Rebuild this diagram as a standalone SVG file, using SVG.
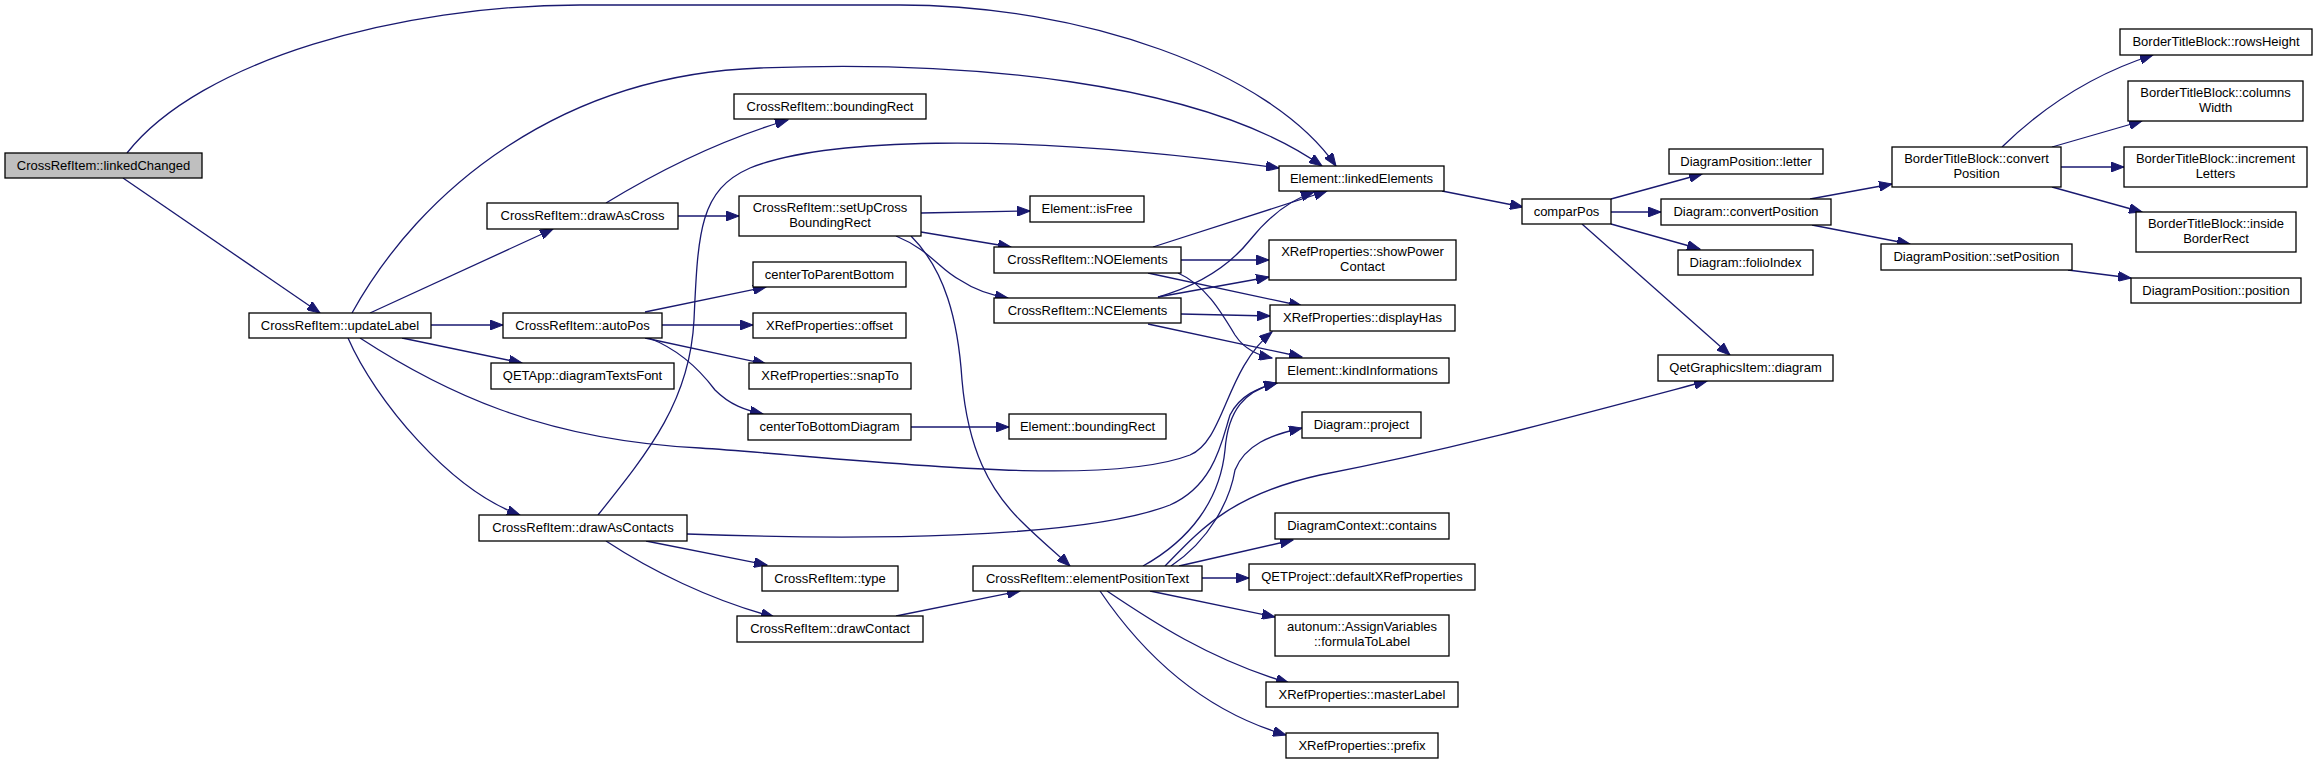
<svg xmlns="http://www.w3.org/2000/svg" width="2317" height="764" viewBox="0 0 2317 764">
<style>
.node rect{fill:#ffffff;stroke:#000000;stroke-width:1.3}
.root rect{fill:#bfbfbf}
text{font-family:"Liberation Sans",Arial,Helvetica,sans-serif;font-size:13px;text-anchor:middle;fill:#000000}
.edges path{fill:none;stroke:#191970;stroke-width:1.3;marker-end:url(#arr)}
</style>
<defs>
<marker id="arr" markerUnits="userSpaceOnUse" markerWidth="14" markerHeight="10" refX="13" refY="5" orient="auto" viewBox="0 0 14 10">
<path d="M0,0 L13,5 L0,10 z" fill="#191970" stroke="#191970" stroke-width="1"/>
</marker>
</defs>
<rect width="2317" height="764" fill="#ffffff"/>
<g id="edges" class="edges">
<path d="M127,153 C200,60 400,5 580,5 L900,5 C1080,5 1270,70 1336,166"/>
<path d="M123,178 L320,313"/>
<path d="M352,313 C420,190 560,75 760,68 C960,60 1200,80 1322,166"/>
<path d="M370,313 L553,229"/>
<path d="M431,325 L503,325"/>
<path d="M402,338 L522,363"/>
<path d="M348,338 C375,400 450,490 520,515"/>
<path d="M360,338 C440,390 540,440 700,448 C850,458 1100,490 1190,455 C1225,440 1225,370 1272,332"/>
<path d="M606,203 C660,170 720,140 788,120"/>
<path d="M678,216 L739,216"/>
<path d="M598,515 C650,450 690,400 694,320 C698,230 700,190 750,168 C820,140 1000,130 1279,168"/>
<path d="M646,541 L767,565"/>
<path d="M606,541 C650,570 710,600 774,617"/>
<path d="M687,534 C850,540 1080,540 1170,505 C1215,485 1222,440 1230,415 C1240,395 1258,388 1277,383"/>
<path d="M645,312 L766,287"/>
<path d="M662,325 L753,325"/>
<path d="M645,338 L766,364"/>
<path d="M649,338 C680,350 700,370 715,390 C730,405 745,410 763,414"/>
<path d="M921,213 L1030,211"/>
<path d="M921,232 L1011,247"/>
<path d="M896,236 C930,250 940,270 960,280 C975,290 990,295 1008,298"/>
<path d="M911,236 C945,270 958,320 962,380 C968,450 990,490 1020,520 C1040,540 1055,552 1070,566"/>
<path d="M911,427 L1009,427"/>
<path d="M896,616 L1020,591"/>
<path d="M1153,247 L1327,191"/>
<path d="M1181,260 L1269,260"/>
<path d="M1148,273 L1302,306"/>
<path d="M1178,273 C1205,285 1220,310 1235,335 C1245,350 1258,355 1272,358"/>
<path d="M1158,297 C1200,285 1230,265 1250,240 C1270,215 1290,200 1314,192"/>
<path d="M1158,297 L1269,277"/>
<path d="M1181,314 L1270,316"/>
<path d="M1148,324 L1302,357"/>
<path d="M1143,566 C1190,540 1220,500 1225,450 C1228,410 1245,390 1277,383"/>
<path d="M1171,566 C1210,540 1230,500 1235,470 C1245,445 1270,435 1302,428"/>
<path d="M1165,566 C1200,530 1230,495 1320,475 C1450,450 1560,420 1707,381"/>
<path d="M1179,566 L1293,540"/>
<path d="M1202,578 L1249,578"/>
<path d="M1150,591 L1275,617"/>
<path d="M1107,591 C1150,620 1210,660 1289,683"/>
<path d="M1100,591 C1140,650 1200,710 1286,735"/>
<path d="M1442,191 L1523,207"/>
<path d="M1611,199 L1702,174"/>
<path d="M1611,212 L1661,212"/>
<path d="M1611,224 L1700,249"/>
<path d="M1582,224 L1730,355"/>
<path d="M1810,199 L1892,184"/>
<path d="M1812,225 L1910,244"/>
<path d="M2002,147 C2040,110 2090,75 2153,55"/>
<path d="M2052,147 L2142,121"/>
<path d="M2061,167 L2124,167"/>
<path d="M2052,187 L2142,212"/>
<path d="M2068,270 L2131,278"/>
</g>
<g id="n_linkedChanged" class="node root"><rect x="5" y="153" width="197" height="25"/><text x="103.5" y="170">CrossRefItem::linkedChanged</text></g>
<g id="n_updateLabel" class="node"><rect x="249" y="313" width="182" height="25"/><text x="340" y="330">CrossRefItem::updateLabel</text></g>
<g id="n_drawAsCross" class="node"><rect x="487" y="203" width="191" height="26"/><text x="582.5" y="220">CrossRefItem::drawAsCross</text></g>
<g id="n_autoPos" class="node"><rect x="503" y="313" width="159" height="25"/><text x="582.5" y="330">CrossRefItem::autoPos</text></g>
<g id="n_diagramTextsFont" class="node"><rect x="491" y="363" width="183" height="26"/><text x="582.5" y="380">QETApp::diagramTextsFont</text></g>
<g id="n_drawAsContacts" class="node"><rect x="479" y="515" width="208" height="26"/><text x="583" y="532">CrossRefItem::drawAsContacts</text></g>
<g id="n_boundingRectCRI" class="node"><rect x="734" y="94" width="192" height="25"/><text x="830" y="111">CrossRefItem::boundingRect</text></g>
<g id="n_setUpCross" class="node"><rect x="739" y="196" width="182" height="40"/><text x="830" y="212">CrossRefItem::setUpCross</text><text x="830" y="227">BoundingRect</text></g>
<g id="n_centerToParentBottom" class="node"><rect x="753" y="262" width="153" height="25"/><text x="829.5" y="279">centerToParentBottom</text></g>
<g id="n_offset" class="node"><rect x="753" y="313" width="153" height="25"/><text x="829.5" y="330">XRefProperties::offset</text></g>
<g id="n_snapTo" class="node"><rect x="749" y="363" width="162" height="26"/><text x="830" y="380">XRefProperties::snapTo</text></g>
<g id="n_centerToBottomDiagram" class="node"><rect x="748" y="414" width="163" height="26"/><text x="829.5" y="431">centerToBottomDiagram</text></g>
<g id="n_type" class="node"><rect x="762" y="566" width="136" height="25"/><text x="830" y="583">CrossRefItem::type</text></g>
<g id="n_drawContact" class="node"><rect x="737" y="616" width="186" height="26"/><text x="830" y="633">CrossRefItem::drawContact</text></g>
<g id="n_isFree" class="node"><rect x="1030" y="196" width="114" height="26"/><text x="1087" y="213">Element::isFree</text></g>
<g id="n_NOElements" class="node"><rect x="994" y="247" width="187" height="26"/><text x="1087.5" y="264">CrossRefItem::NOElements</text></g>
<g id="n_NCElements" class="node"><rect x="994" y="298" width="187" height="25"/><text x="1087.5" y="315">CrossRefItem::NCElements</text></g>
<g id="n_elemBoundingRect" class="node"><rect x="1009" y="414" width="157" height="25"/><text x="1087.5" y="431">Element::boundingRect</text></g>
<g id="n_elementPositionText" class="node"><rect x="973" y="566" width="229" height="25"/><text x="1087.5" y="583">CrossRefItem::elementPositionText</text></g>
<g id="n_linkedElements" class="node"><rect x="1279" y="166" width="165" height="25"/><text x="1361.5" y="183">Element::linkedElements</text></g>
<g id="n_showPowerContact" class="node"><rect x="1269" y="240" width="187" height="40"/><text x="1362.5" y="256">XRefProperties::showPower</text><text x="1362.5" y="271">Contact</text></g>
<g id="n_displayHas" class="node"><rect x="1270" y="305" width="185" height="26"/><text x="1362.5" y="322">XRefProperties::displayHas</text></g>
<g id="n_kindInformations" class="node"><rect x="1276" y="358" width="173" height="25"/><text x="1362.5" y="375">Element::kindInformations</text></g>
<g id="n_project" class="node"><rect x="1302" y="412" width="119" height="26"/><text x="1361.5" y="429">Diagram::project</text></g>
<g id="n_contains" class="node"><rect x="1275" y="513" width="174" height="26"/><text x="1362" y="530">DiagramContext::contains</text></g>
<g id="n_defaultXRef" class="node"><rect x="1249" y="564" width="226" height="26"/><text x="1362" y="581">QETProject::defaultXRefProperties</text></g>
<g id="n_formulaToLabel" class="node"><rect x="1275" y="615" width="174" height="41"/><text x="1362" y="631">autonum::AssignVariables</text><text x="1362" y="646">::formulaToLabel</text></g>
<g id="n_masterLabel" class="node"><rect x="1266" y="682" width="192" height="25"/><text x="1362" y="699">XRefProperties::masterLabel</text></g>
<g id="n_prefix" class="node"><rect x="1286" y="733" width="152" height="25"/><text x="1362" y="750">XRefProperties::prefix</text></g>
<g id="n_comparPos" class="node"><rect x="1522" y="199" width="89" height="25"/><text x="1566.5" y="216">comparPos</text></g>
<g id="n_letter" class="node"><rect x="1669" y="149" width="154" height="25"/><text x="1746" y="166">DiagramPosition::letter</text></g>
<g id="n_convertPosition" class="node"><rect x="1661" y="199" width="170" height="26"/><text x="1746" y="216">Diagram::convertPosition</text></g>
<g id="n_folioIndex" class="node"><rect x="1678" y="250" width="135" height="25"/><text x="1745.5" y="267">Diagram::folioIndex</text></g>
<g id="n_qgiDiagram" class="node"><rect x="1658" y="355" width="175" height="26"/><text x="1745.5" y="372">QetGraphicsItem::diagram</text></g>
<g id="n_btbConvertPosition" class="node"><rect x="1892" y="147" width="169" height="40"/><text x="1976.5" y="163">BorderTitleBlock::convert</text><text x="1976.5" y="178">Position</text></g>
<g id="n_setPosition" class="node"><rect x="1881" y="244" width="191" height="26"/><text x="1976.5" y="261">DiagramPosition::setPosition</text></g>
<g id="n_rowsHeight" class="node"><rect x="2120" y="29" width="192" height="26"/><text x="2216" y="46">BorderTitleBlock::rowsHeight</text></g>
<g id="n_columnsWidth" class="node"><rect x="2128" y="81" width="175" height="40"/><text x="2215.5" y="97">BorderTitleBlock::columns</text><text x="2215.5" y="112">Width</text></g>
<g id="n_incrementLetters" class="node"><rect x="2124" y="147" width="183" height="40"/><text x="2215.5" y="163">BorderTitleBlock::increment</text><text x="2215.5" y="178">Letters</text></g>
<g id="n_insideBorderRect" class="node"><rect x="2136" y="212" width="160" height="40"/><text x="2216" y="228">BorderTitleBlock::inside</text><text x="2216" y="243">BorderRect</text></g>
<g id="n_position" class="node"><rect x="2131" y="278" width="170" height="25"/><text x="2216" y="295">DiagramPosition::position</text></g>
</svg>
